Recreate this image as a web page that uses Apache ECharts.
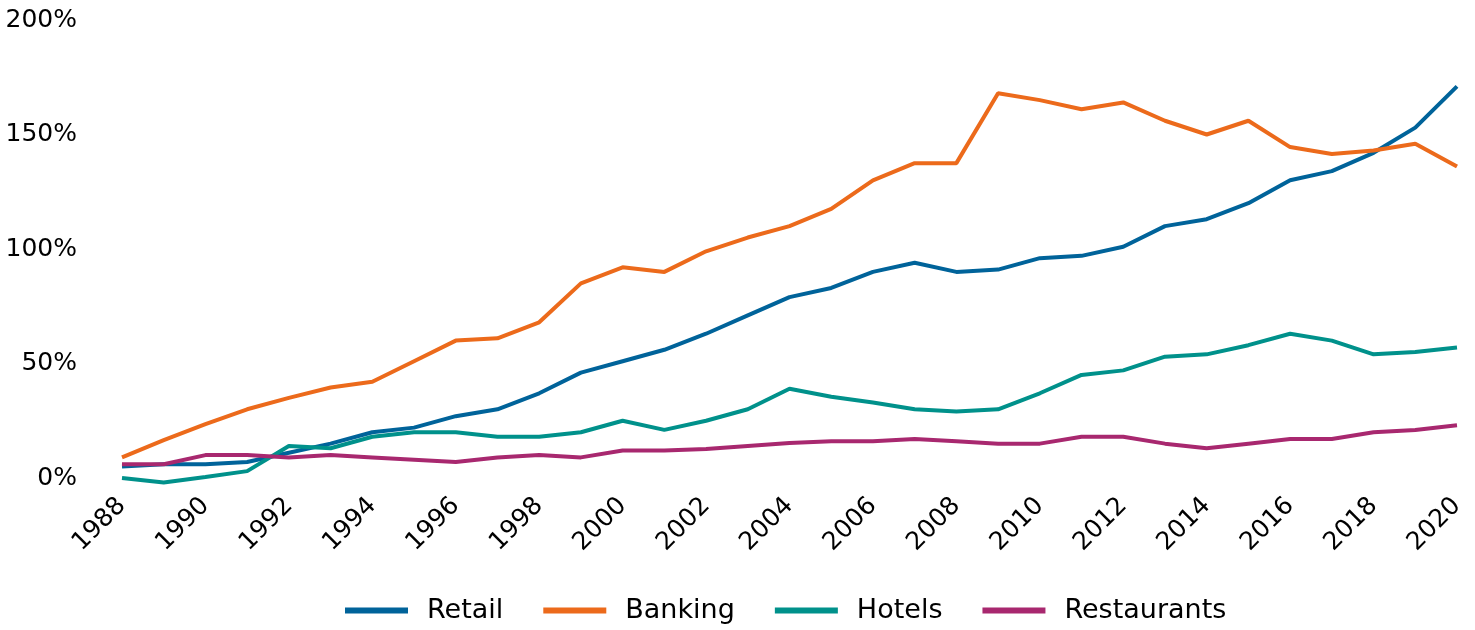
<!DOCTYPE html>
<html>
<head>
<meta charset="utf-8">
<script src="https://cdn.jsdelivr.net/npm/echarts@6/dist/echarts.min.js"></script>
<style>
  html, body { margin: 0; padding: 0; background: #fff; }
  #chart { width: 1475px; height: 630px; }
</style>
</head>
<body>
<div id="chart"></div>
<script>
const years = [];
for (let y = 1988; y <= 2020; y++) years.push(String(y));

// values in %
const retail = [5, 6, 6, 7, 11, 15, 20, 22, 27, 30, 37, 46, 51, 56, 63, 71, 79, 83, 90, 94, 90, 91, 96, 97, 101, 110, 113, 120, 130, 134, 142, 153, 171];
const banking = [9, 16.5, 23.5, 30, 35, 39.5, 42, 51, 60, 61, 68, 85, 92, 90, 99, 105, 110, 117.5, 130, 137.5, 137.5, 168, 165, 161, 164, 156, 150, 156, 144.5, 141.5, 143, 146, 136];
const hotels = [0, -2, 0.4, 3, 14, 13, 18, 20, 20, 18, 18, 20, 25, 21, 25, 30, 39, 35.5, 33, 30, 29, 30, 37, 45, 47, 53, 54, 58, 63, 60, 54, 55, 57];
const restaurants = [6, 6, 10, 10, 9, 10, 9, 8, 7, 9, 10, 9, 12, 12, 12.7, 14, 15.3, 16, 16, 17, 16, 15, 15, 18, 18, 15, 13, 15, 17, 17, 20, 21, 23];

const colors = ['#00639a', '#ec6a1b', '#00918b', '#a8286f'];
const fontFamily = '"DejaVu Sans", sans-serif';

function line(name, data, color) {
  return {
    name: name,
    type: 'line',
    data: data,
    symbol: 'none',
    clip: false,
    lineStyle: { width: 4, color: color },
    itemStyle: { color: color }
  };
}

const chart = echarts.init(document.getElementById('chart'));
chart.setOption({
  animation: false,
  backgroundColor: '#ffffff',
  textStyle: { fontFamily: fontFamily },
  grid: { left: 122, right: 18, top: 20, bottom: 152 },
  legend: {
    bottom: 1,
    left: 340,
    icon: 'rect',
    itemWidth: 63,
    itemHeight: 6,
    itemGap: 40,
    textStyle: { fontSize: 27, color: '#000', fontFamily: fontFamily, padding: [0, 0, 0, 14] },
    data: ['Retail', 'Banking', 'Hotels', 'Restaurants']
  },
  xAxis: {
    type: 'category',
    data: years,
    boundaryGap: false,
    axisLine: { show: false },
    axisTick: { show: false },
    axisLabel: {
      interval: 1,
      rotate: 45,
      margin: 24,
      fontSize: 25,
      color: '#000',
      fontFamily: fontFamily
    }
  },
  yAxis: {
    type: 'value',
    min: 0,
    max: 200,
    interval: 50,
    splitLine: { show: false },
    axisLine: { show: false },
    axisTick: { show: false },
    axisLabel: {
      formatter: '{value}%',
      margin: 45,
      fontSize: 25,
      color: '#000',
      fontFamily: fontFamily
    }
  },
  series: [
    line('Retail', retail, colors[0]),
    line('Banking', banking, colors[1]),
    line('Hotels', hotels, colors[2]),
    line('Restaurants', restaurants, colors[3])
  ]
});
</script>
</body>
</html>
